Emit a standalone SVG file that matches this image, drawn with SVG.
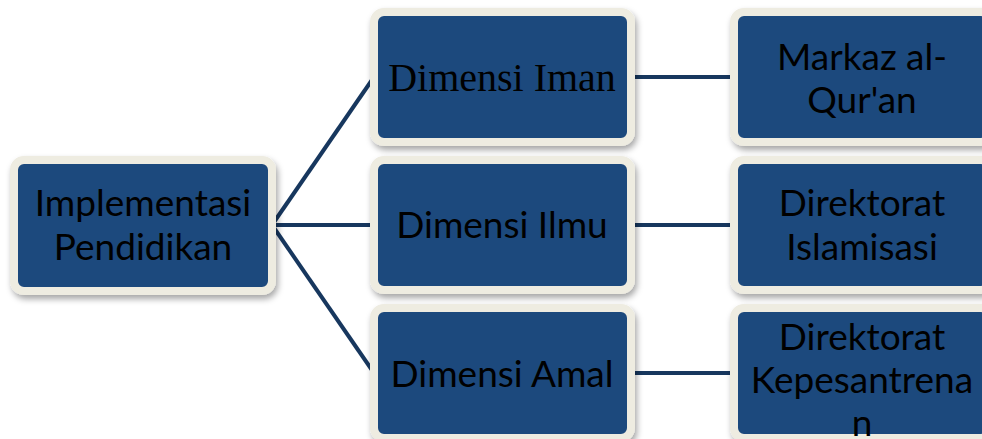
<svg xmlns="http://www.w3.org/2000/svg" width="982" height="439" viewBox="0 0 982 439">
  <defs>
    <filter id="sh" x="-10%" y="-10%" width="125%" height="130%">
      <feDropShadow dx="2" dy="4" stdDeviation="3" flood-color="#000" flood-opacity="0.35"/>
    </filter>
  </defs>
  <style>
    .box { fill: #1F497D; stroke: #EEECE1; stroke-width: 8; filter: url(#sh); }
    .t { font-family: Lato, "Liberation Sans", sans-serif; font-size: 37px; fill: #000; text-anchor: middle; }
    .ts { font-family: "Liberation Serif", serif; font-size: 40px; fill: #000; text-anchor: middle; }
    .c { stroke: #17375E; stroke-width: 4; fill: none; }
  </style>
  <g id="connectors">
    <line class="c" x1="272" y1="225" x2="374" y2="77"/>
    <line class="c" x1="272" y1="225" x2="374" y2="225"/>
    <line class="c" x1="272" y1="225" x2="374" y2="373"/>
    <line class="c" x1="635" y1="77" x2="734" y2="77"/>
    <line class="c" x1="635" y1="225" x2="734" y2="225"/>
    <line class="c" x1="635" y1="373" x2="734" y2="373"/>
  </g>
  <g id="root">
    <rect class="box" x="14" y="160" width="258" height="131" rx="10"/>
    <text class="t" x="143" y="216">Implementasi</text>
    <text class="t" x="143" y="260">Pendidikan</text>
  </g>
  <g id="iman">
    <rect class="box" x="374" y="12" width="257" height="130" rx="10"/>
    <text class="ts" x="502" y="91">Dimensi Iman</text>
  </g>
  <g id="ilmu">
    <rect class="box" x="374" y="160" width="257" height="130" rx="10"/>
    <text class="t" x="502" y="238">Dimensi Ilmu</text>
  </g>
  <g id="amal">
    <rect class="box" x="374" y="308" width="257" height="130" rx="10"/>
    <text class="t" x="502" y="387">Dimensi Amal</text>
  </g>
  <g id="markaz">
    <rect class="box" x="734" y="12" width="257" height="130" rx="10"/>
    <text class="t" x="862" y="70">Markaz al-</text>
    <text class="t" x="862" y="113">Qur'an</text>
  </g>
  <g id="islamisasi">
    <rect class="box" x="734" y="160" width="257" height="130" rx="10"/>
    <text class="t" x="862" y="216">Direktorat</text>
    <text class="t" x="862" y="260">Islamisasi</text>
  </g>
  <g id="kepesantrenan">
    <rect class="box" x="734" y="308" width="257" height="130" rx="10"/>
    <text class="t" x="862" y="350">Direktorat</text>
    <text class="t" x="862" y="393">Kepesantrena</text>
    <text class="t" x="862" y="436">n</text>
  </g>
</svg>
